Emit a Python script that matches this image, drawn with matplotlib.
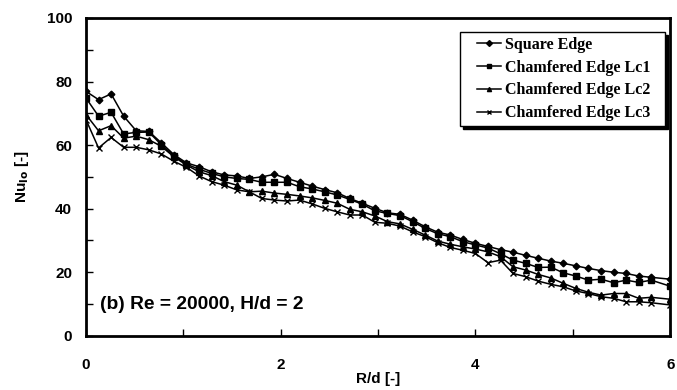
import matplotlib
matplotlib.use("Agg")
import matplotlib.pyplot as plt
from matplotlib.ticker import MultipleLocator
from matplotlib.patches import Rectangle
from matplotlib.transforms import IdentityTransform

r_d = [0, 0.129, 0.258, 0.387, 0.516, 0.645, 0.774, 0.903, 1.032, 1.161,
       1.29, 1.419, 1.548, 1.677, 1.806, 1.935, 2.064, 2.193, 2.322, 2.451,
       2.58, 2.709, 2.838, 2.967, 3.096, 3.225, 3.354, 3.483, 3.612, 3.741,
       3.87, 3.999, 4.128, 4.257, 4.386, 4.515, 4.644, 4.773, 4.902, 5.031,
       5.16, 5.289, 5.418, 5.547, 5.676, 5.805, 6.0]

square_edge = [76.9, 74.3, 76.1, 69.1, 64.5, 64.3, 60.7, 57.0, 54.4, 53.2,
               51.6, 50.6, 50.3, 49.5, 50.0, 50.8, 49.5, 48.3, 47.1, 46.0,
               45.0, 43.2, 41.7, 40.1, 38.7, 38.2, 36.4, 34.3, 32.6, 31.7,
               30.3, 29.1, 28.1, 27.1, 26.3, 25.3, 24.4, 23.5, 22.8, 22.0,
               21.2, 20.5, 20.0, 19.6, 18.8, 18.4, 17.8]

chamfered_lc1 = [74.8, 69.1, 70.3, 63.5, 64.0, 64.1, 60.1, 56.6, 54.0, 52.4,
                 51.1, 50.0, 49.5, 49.2, 48.3, 48.3, 48.3, 46.9, 46.2, 45.3,
                 44.3, 42.9, 41.4, 39.3, 38.5, 37.8, 35.9, 33.8, 32.1, 31.2,
                 29.6, 28.6, 27.6, 25.8, 23.8, 22.8, 21.5, 21.6, 19.8, 18.8,
                 17.5, 17.8, 16.7, 17.5, 16.8, 17.5, 15.6]

chamfered_lc2 = [69.6, 64.5, 66.1, 62.2, 62.8, 61.7, 59.6, 56.3, 53.7, 51.6,
                 50.4, 48.5, 47.4, 45.3, 45.5, 44.9, 44.5, 44.0, 43.4, 42.6,
                 41.7, 39.8, 39.0, 37.7, 35.9, 35.2, 33.5, 31.7, 29.8, 28.8,
                 28.0, 27.3, 26.4, 24.9, 21.7, 20.7, 19.3, 18.2, 16.5, 14.9,
                 13.7, 12.8, 13.3, 13.3, 11.8, 12.1, 11.5]

chamfered_lc3 = [68.0, 59.1, 62.4, 59.3, 59.3, 58.5, 57.2, 54.9, 53.0, 50.3,
                 48.5, 47.4, 45.9, 45.3, 43.2, 42.7, 42.4, 42.7, 41.5, 40.1,
                 39.0, 38.0, 38.0, 35.7, 35.4, 34.5, 32.7, 31.2, 29.3, 27.8,
                 26.9, 25.9, 23.0, 23.8, 19.6, 18.6, 17.2, 16.2, 15.4, 14.1,
                 13.3, 12.3, 11.8, 10.7, 10.7, 10.4, 9.7]

labels = ["Square Edge", "Chamfered Edge Lc1", "Chamfered Edge Lc2", "Chamfered Edge Lc3"]
series = [square_edge, chamfered_lc1, chamfered_lc2, chamfered_lc3]
markers = ["D", "s", "^", "x"]
msizes = [3.4, 4.0, 4.8, 4.8]

fig = plt.figure(figsize=(6.77, 3.9), dpi=100)
ax = fig.add_axes([0.127, 0.139, 0.863, 0.815])

for y, lab, m, ms in zip(series, labels, markers, msizes):
    ax.plot(r_d, y, color="black", lw=1.1, marker=m, ms=ms, mew=1.0,
            mfc="black", mec="black", label=lab)

ax.set_xlim(0, 6)
ax.set_ylim(0, 100)
ax.xaxis.set_major_locator(MultipleLocator(2))
ax.xaxis.set_minor_locator(MultipleLocator(1))
ax.yaxis.set_major_locator(MultipleLocator(20))
ax.yaxis.set_minor_locator(MultipleLocator(10))
ax.tick_params(which="both", direction="in", top=False, right=False, width=1.0)
ax.tick_params(which="major", length=5)
ax.tick_params(which="minor", length=5)
ax.tick_params(axis="y", which="major", pad=10)
ax.tick_params(axis="x", which="major", pad=16)
for lab in ax.get_xticklabels() + ax.get_yticklabels():
    lab.set_fontfamily("Liberation Sans")
    lab.set_fontweight("bold")
    lab.set_fontsize(11)
for sp in ax.spines.values():
    sp.set_linewidth(2.0)

ax.set_xlabel("R/d [-]", fontfamily="Liberation Sans", fontweight="bold",
              fontsize=11, labelpad=0)
ax.set_ylabel(r"Nu$_{\mathbf{lo}}$ [-]", fontfamily="Liberation Sans",
              fontweight="bold", fontsize=11, labelpad=11)

ax.text(0.14, 10, "(b) Re = 20000, H/d = 2", fontfamily="Liberation Sans",
        fontweight="bold", fontsize=13.8, va="center", ha="left")

leg = ax.legend(loc="upper right", bbox_to_anchor=(0.967, 0.94),
                prop={"family": "Liberation Serif", "weight": "bold", "size": 11.5},
                frameon=False, handlelength=1.5, handletextpad=0.25,
                labelspacing=0.42, borderpad=0.0, borderaxespad=0.0)
for hnd in leg.legend_handles:
    hnd.set_markersize(3)
leg.set_zorder(10)

# legend frame with Excel-style padding and drop shadow
fig.canvas.draw()
bb = leg.get_window_extent()
padl, padr, padt, padb = 17, 14, 5, 5
x0, y0 = bb.x0 - padl, bb.y0 - padb
w, h = bb.width + padl + padr, bb.height + padt + padb
shadow = Rectangle((x0 + 3, y0 - 3), w, h, transform=IdentityTransform(),
                   facecolor="black", edgecolor="black", zorder=8, clip_on=False)
frame = Rectangle((x0, y0), w, h, transform=IdentityTransform(),
                  facecolor="white", edgecolor="black", linewidth=1.0,
                  zorder=9, clip_on=False)
ax.add_artist(shadow)
ax.add_artist(frame)

fig.savefig("out.png", dpi=100)
